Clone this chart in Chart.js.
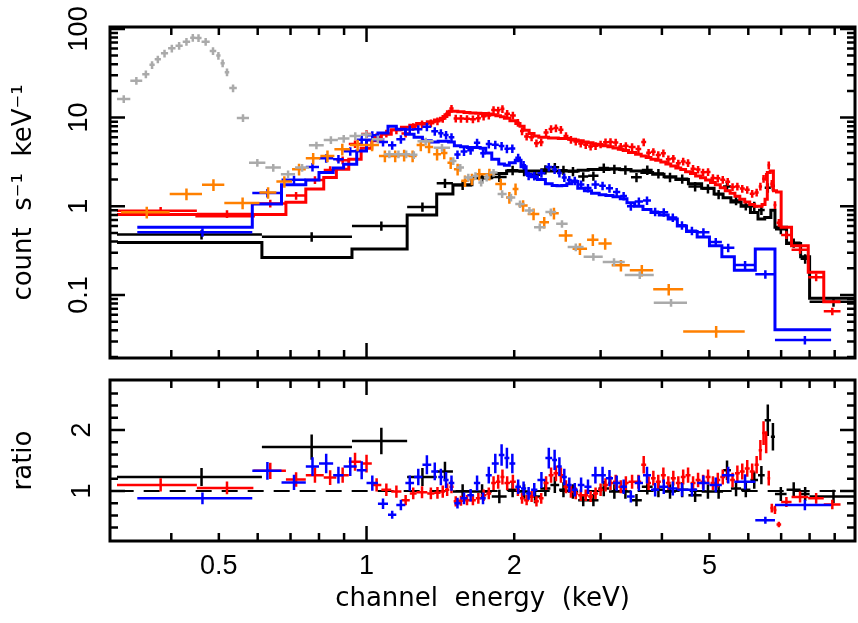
<!DOCTYPE html>
<html>
<head>
<meta charset="utf-8">
<script src="https://cdn.jsdelivr.net/npm/chart.js@4.4.1/dist/chart.umd.min.js"></script>
<style>
  html, body { margin: 0; padding: 0; background: #fff; }
  #wrap { position: relative; width: 858px; height: 623px; }
  canvas { position: absolute; left: 0; }
  #spec { top: 0; }
  #ratio { top: 370px; }
</style>
</head>
<body>
<div id="wrap">
  <canvas id="spec" width="858" height="370"></canvas>
  <canvas id="ratio" width="858" height="253"></canvas>
</div>
<script>
// axes (energy in keV)
const xMin = 0.311, xMax = 9.9;
const specMin = 0.0195, specMax = 105;
const ratioMin = 0.18, ratioMax = 2.82;
const xTickLabels = [0.5, 1, 2, 5];
const xMajorTicks = [1];
const xMinorTicks = [0.4, 0.5, 0.6, 0.7, 0.8, 0.9, 2, 3, 4, 5, 6, 7, 8, 9];
const specTickLabels = [0.1, 1, 10, 100];
const specMajorTicks = [0.1, 1, 10, 100];
const specMinorTicks = [0.02, 0.03, 0.04, 0.05, 0.06, 0.07, 0.08, 0.09,
  0.2, 0.3, 0.4, 0.5, 0.6, 0.7, 0.8, 0.9, 2, 3, 4, 5, 6, 7, 8, 9,
  20, 30, 40, 50, 60, 70, 80, 90];
const ratioTickLabels = [1, 2];
const ratioMajorTicks = [1, 2];
const ratioMinorTicks = [0.4, 0.6, 0.8, 1.2, 1.4, 1.6, 1.8, 2.2, 2.4, 2.6];

// black: bin edges, folded model (count/s/keV), data/model ratio
const blackEdges = [0.31, 0.612, 0.934, 1.21, 1.39, 1.50, 1.64, 1.80, 1.93, 2.04,
  2.15, 2.26, 2.37, 2.47, 2.57, 2.70, 2.83, 2.97, 3.12, 3.28,
  3.46, 3.64, 3.83, 4.04, 4.27, 4.53, 4.82, 5.11, 5.33, 5.53,
  5.80, 6.06, 6.28, 6.48, 6.67, 6.80, 7.18, 7.67, 8.0, 9.9];
const blackModel = [0.39, 0.264, 0.33, 0.80, 1.38, 1.75, 2.1, 2.35, 2.5, 2.5,
  2.5, 2.5, 2.5, 2.5, 2.5, 2.55, 2.6, 2.6, 2.65, 2.6,
  2.5, 2.4, 2.3, 2.15, 2.0, 1.8, 1.6, 1.38, 1.25, 1.12,
  1.0, 0.85, 0.72, 0.75, 0.9, 0.58, 0.38, 0.27, 0.092];
const blackRatio = [1.23, 1.72, 1.82, 1.23, 1.32, 0.99, 0.99, 0.91, 1.02, 0.99,
  0.91, 1.04, 1.10, 1.02, 0.99, 0.85, 0.85, 1.04, 0.99, 0.99,
  0.85, 1.07, 1.02, 0.99, 1.02, 0.93, 0.99, 0.99, 1.34, 1.04,
  1.02, 1.18, 1.26, 2.16, 1.89, 0.95, 1.02, 0.95, 0.91];

// red
const redEdges = [0.31, 0.451, 0.588, 0.685, 0.752, 0.818, 0.868, 0.92, 0.975, 1.025,
  1.072, 1.123, 1.178, 1.225, 1.265, 1.33, 1.375, 1.415, 1.445, 1.475,
  1.505, 1.535, 1.58, 1.625, 1.67, 1.71, 1.755, 1.795, 1.835, 1.875,
  1.91, 1.96, 2.015, 2.055, 2.095, 2.145, 2.195, 2.245, 2.295, 2.35,
  2.405, 2.46, 2.52, 2.58, 2.64, 2.70, 2.765, 2.83, 2.895, 2.965,
  3.035, 3.105, 3.18, 3.26, 3.335, 3.42, 3.535, 3.63, 3.715, 3.80,
  3.885, 3.98, 4.075, 4.17, 4.27, 4.37, 4.47, 4.575, 4.685, 4.795,
  4.91, 5.025, 5.14, 5.26, 5.385, 5.51, 5.635, 5.765, 5.90, 6.04,
  6.18, 6.30, 6.40, 6.49, 6.56, 6.65, 6.75, 6.85, 7.0, 7.35,
  7.95, 8.55, 9.25];
const redModel = [0.81, 0.78, 0.81, 1.11, 1.57, 2.11, 2.62, 3.4, 4.5, 5.5,
  6.5, 7.3, 7.8, 8.2, 8.6, 9.0, 9.4, 9.8, 10.8, 11.8,
  11.8, 11.6, 11.4, 11.3, 11.2, 11.1, 11.0, 10.8, 10.5, 10.2,
  9.8, 9.2, 8.6, 8.0, 7.2, 6.6, 6.2, 6.0, 6.0, 5.9,
  5.9, 5.8, 5.8, 5.7, 5.6, 5.5, 5.3, 5.2, 5.0, 4.9,
  4.8, 4.7, 4.55, 4.4, 4.25, 4.05, 3.85, 3.7, 3.55, 3.4,
  3.3, 3.15, 3.0, 2.85, 2.7, 2.6, 2.45, 2.35, 2.2, 2.1,
  1.98, 1.85, 1.75, 1.62, 1.5, 1.4, 1.3, 1.2, 1.12, 1.05,
  1.0, 1.0, 1.05, 1.2, 2.4, 2.5, 1.5, 1.45, 0.58, 0.36,
  0.18, 0.084];
const redRatio = [1.10, 1.05, 1.33, 1.19, 1.26, 1.22, 1.26, 1.48, 1.45, 1.10,
  1.02, 0.99, 0.85, 0.96, 0.98, 0.96, 0.97, 0.99, 1.02, 1.07,
  0.83, 0.84, 0.85, 0.85, 0.88, 0.93, 0.96, 1.13, 1.15, 1.23,
  1.13, 1.15, 1.02, 0.88, 0.85, 0.91, 0.83, 0.88, 1.13, 1.26,
  1.29, 1.26, 1.07, 0.99, 0.96, 0.93, 0.93, 0.91, 0.96, 1.02,
  1.10, 1.13, 1.15, 1.07, 1.13, 1.15, 1.15, 1.43, 1.13, 1.21,
  1.15, 1.26, 1.13, 1.21, 1.13, 1.23, 1.26, 1.13, 1.18, 1.15,
  1.23, 1.13, 1.18, 1.23, 1.26, 1.18, 1.29, 1.32, 1.37, 1.32,
  1.43, 1.67, 1.95, 1.80, 1.21, 0.72, 0.69, 0.45, 0.82, 0.90,
  0.88, 0.78];

// blue
const blueEdges = [0.341, 0.585, 0.671, 0.752, 0.80, 0.855, 0.898, 0.955, 1.0, 1.055,
  1.106, 1.15, 1.20, 1.25, 1.30, 1.355, 1.40, 1.435, 1.47, 1.51,
  1.555, 1.605, 1.655, 1.705, 1.75, 1.80, 1.86, 1.91, 1.955, 2.01,
  2.065, 2.115, 2.165, 2.23, 2.315, 2.39, 2.445, 2.50, 2.56, 2.62,
  2.695, 2.78, 2.875, 2.98, 3.075, 3.18, 3.29, 3.395, 3.52, 3.66,
  3.80, 3.95, 4.12, 4.30, 4.49, 4.72, 5.0, 5.3, 5.62, 6.2,
  6.8, 8.85];
const blueModel = [0.58, 1.06, 1.75, 1.98, 2.4, 2.7, 2.98, 4.2, 5.6, 6.7,
  8.0, 7.4, 6.5, 6.0, 5.5, 5.3, 5.4, 5.4, 5.3, 4.8,
  4.7, 4.6, 4.6, 4.5, 4.0, 3.4, 3.0, 2.9, 3.1, 3.3,
  2.8, 2.3, 2.15, 2.0, 1.8, 1.72, 1.7, 1.72, 1.8, 1.9,
  1.6, 1.5, 1.4, 1.35, 1.32, 1.28, 1.22, 1.1, 1.0, 0.92,
  0.85, 0.8, 0.72, 0.6, 0.52, 0.45, 0.36, 0.27, 0.19, 0.33,
  0.0405];
const blueRatio = [0.88, 1.33, 1.14, 1.40, 1.45, 1.26, 1.40, 1.34, 1.13, 0.79,
  0.61, 0.77, 1.13, 1.23, 1.43, 1.32, 1.23, 1.18, 1.13, 0.80,
  0.88, 0.93, 1.13, 0.88, 1.26, 1.45, 1.59, 1.54, 1.45, 1.07,
  1.04, 0.96, 1.02, 1.18, 1.54, 1.51, 1.40, 1.23, 1.10, 1.02,
  1.10, 1.07, 1.26, 1.26, 1.21, 1.13, 1.07, 0.91, 1.13, 1.26,
  1.02, 1.07, 1.04, 1.02, 1.02, 1.13, 1.10, 1.26, 1.15, 0.52,
  0.77];

// orange and grey: count rate only
const orangeEdges = [0.316, 0.397, 0.462, 0.513, 0.605, 0.655, 0.705, 0.752, 0.805, 0.86,
  0.925, 0.993, 1.06, 1.12, 1.168, 1.218, 1.265, 1.315, 1.367, 1.418,
  1.462, 1.507, 1.56, 1.615, 1.665, 1.73, 1.83, 1.925, 1.985, 2.04,
  2.13, 2.25, 2.355, 2.465, 2.63, 2.815, 2.97, 3.16, 3.44, 3.84,
  4.42, 5.9];
const orangeRate = [0.857, 1.38, 1.75, 1.09, 1.43, 1.9, 2.62, 3.48, 3.7, 4.4,
  4.9, 4.9, 3.7, 3.7, 3.77, 3.7, 4.9, 4.66, 3.86, 4.0,
  3.1, 2.62, 1.94, 2.03, 2.3, 2.3, 1.78, 1.26, 1.57, 1.02,
  0.82, 0.66, 0.835, 0.47, 0.333, 0.42, 0.38, 0.216, 0.19, 0.116,
  0.0388];
const grayEdges = [0.31, 0.33, 0.349, 0.361, 0.370, 0.381, 0.394, 0.408, 0.422, 0.437,
  0.448, 0.461, 0.479, 0.494, 0.504, 0.514, 0.525, 0.544, 0.576, 0.622,
  0.669, 0.715, 0.763, 0.818, 0.874, 0.923, 0.974, 1.024, 1.085, 1.141,
  1.182, 1.227, 1.27, 1.37, 1.48, 1.525, 1.58, 1.645, 1.69, 1.735,
  1.78, 1.85, 1.93, 2.01, 2.10, 2.195, 2.315, 2.435, 2.57, 2.77,
  3.03, 3.36, 3.85, 4.5];
const grayRate = [16.2, 26, 30.9, 39.3, 45.4, 53, 60.3, 64.7, 71.8, 79.5,
  79, 71.8, 56.3, 50, 41, 32.5, 21.5, 9.9, 3.1, 2.73,
  2.3, 2.73, 4.87, 5.6, 5.8, 6.2, 6.45, 5.7, 3.86, 3.86,
  3.86, 3.8, 5.4, 4.58, 3.25, 2.73, 2.11, 2.2, 1.86, 2.11,
  2.4, 1.38, 1.26, 1.06, 0.895, 0.58, 0.86, 0.635, 0.347, 0.27,
  0.236, 0.168, 0.082];

// fractional 1-sigma errors per data group
const blackErr = 0.12, redErr = 0.1, blueErr = 0.11, orangeErr = 0.15, grayErr = 0.1;

function bins(edges, vals) {
  const out = [];
  for (let i = 0; i < vals.length && i + 1 < edges.length; i++) {
    out.push({lo: edges[i], hi: edges[i + 1], v: vals[i]});
  }
  return out;
}
function crosses(edges, vals, err) {
  return bins(edges, vals).map(b => ({
    x: (b.lo + b.hi) / 2, y: b.v, xMin: b.lo, xMax: b.hi,
    yMin: b.v * (1 - err), yMax: b.v * (1 + err)
  }));
}
function steps(edges, vals) {
  const b = bins(edges, vals);
  const pts = b.map(p => ({x: p.lo, y: p.v}));
  const last = b[b.length - 1];
  pts.push({x: last.hi, y: last.v});
  return pts;
}
const mul = (a, b) => a.map((v, i) => v * b[i]);

const tickFont = {family: 'Liberation Sans', size: 27};
const titleFont = {family: 'DejaVu Sans', size: 26};

// error bars drawn right after their own dataset, so layering follows dataset order
const errorBars = {
  id: 'errorBars',
  afterDatasetDraw(chart, args) {
    const ds = chart.data.datasets[args.index];
    if (!ds.crosses) return;
    const {ctx, chartArea: a, scales: {x, y}} = chart;
    ctx.save();
    ctx.beginPath();
    ctx.rect(a.left, a.top, a.right - a.left, a.bottom - a.top);
    ctx.clip();
    ctx.strokeStyle = ds.borderColor;
    ctx.lineWidth = 2.5;
    ctx.beginPath();
    ds.data.forEach(p => {
      const px = x.getPixelForValue(p.x), py = y.getPixelForValue(p.y);
      ctx.moveTo(x.getPixelForValue(p.xMin), py);
      ctx.lineTo(x.getPixelForValue(p.xMax), py);
      ctx.moveTo(px, y.getPixelForValue(p.yMin));
      ctx.lineTo(px, y.getPixelForValue(p.yMax));
    });
    ctx.stroke();
    ctx.restore();
  }
};

// box with inward ticks on all four sides
const frameTicks = {
  id: 'frameTicks',
  afterDraw(chart, args, opts) {
    const {ctx, chartArea: a, scales: {x, y}} = chart;
    ctx.save();
    ctx.strokeStyle = '#000';
    ctx.lineWidth = 2.5;
    ctx.beginPath();
    const xt = (vals, len) => vals.forEach(v => {
      const p = x.getPixelForValue(v);
      if (p <= a.left || p >= a.right) return;
      ctx.moveTo(p, a.bottom); ctx.lineTo(p, a.bottom - len);
      ctx.moveTo(p, a.top); ctx.lineTo(p, a.top + len);
    });
    const yt = (vals, len) => vals.forEach(v => {
      const p = y.getPixelForValue(v);
      if (p <= a.top || p >= a.bottom) return;
      ctx.moveTo(a.left, p); ctx.lineTo(a.left + len, p);
      ctx.moveTo(a.right, p); ctx.lineTo(a.right - len, p);
    });
    xt(opts.xMajor, 15); xt(opts.xMinor, 8);
    yt(opts.yMajor, 15); yt(opts.yMinor, 8);
    ctx.stroke();
    ctx.lineWidth = 3;
    ctx.strokeRect(a.left, a.top, a.right - a.left, a.bottom - a.top);
    ctx.restore();
  }
};

function crossSet(data, color, order) {
  return {data: data, crosses: true, borderColor: color, backgroundColor: color,
    pointRadius: 0, showLine: false, order: order};
}
function stepSet(data, color, order) {
  return {data: data, borderColor: color, borderWidth: 3, pointRadius: 0,
    showLine: true, stepped: true, fill: false, order: order};
}
function noPad(s) {
  s.paddingTop = 0; s.paddingBottom = 0; s.paddingLeft = 0; s.paddingRight = 0;
}
function xAxis(show) {
  return {
    type: 'logarithmic', min: xMin, max: xMax, display: show,
    grid: {display: false, drawTicks: false}, border: {display: false},
    afterBuildTicks: s => { s.ticks = xTickLabels.map(v => ({value: v})); },
    afterFit: s => { s.height = show ? 82 : 0; noPad(s); },
    ticks: {autoSkip: false, minRotation: 0, maxRotation: 0, padding: 9,
      color: '#000', font: tickFont, callback: v => String(v)},
    title: {display: true, text: 'channel  energy  (keV)', color: '#000',
      font: titleFont, padding: {top: 0, bottom: 8}}
  };
}
function yAxis(type, min, max, labels, title, pad) {
  return {
    type: type, min: min, max: max,
    grid: {display: false, drawTicks: false}, border: {display: false},
    afterBuildTicks: s => { s.ticks = labels.map(v => ({value: v})); },
    afterFit: s => { s.width = 110; noPad(s); },
    ticks: {autoSkip: false, minRotation: 90, maxRotation: 90, crossAlign: 'center',
      padding: pad, color: '#000', font: tickFont, callback: v => String(v)},
    title: {display: true, text: title, color: '#000', font: titleFont,
      padding: {top: 9, bottom: 0}}
  };
}

const blackData = mul(blackModel, blackRatio);
const redData = mul(redModel, redRatio);
const blueData = mul(blueModel, blueRatio);

new Chart(document.getElementById('spec'), {
  type: 'scatter',
  data: {
    datasets: [
      crossSet(crosses(grayEdges, grayRate, grayErr), '#aaaaaa', 1),
      crossSet(crosses(orangeEdges, orangeRate, orangeErr), '#ff8000', 2),
      stepSet(steps(blueEdges, blueModel), '#0000ff', 3),
      crossSet(crosses(blueEdges, blueData, blueErr), '#0000ff', 3),
      stepSet(steps(redEdges, redModel), '#ff0000', 4),
      crossSet(crosses(redEdges, redData, redErr), '#ff0000', 4),
      stepSet(steps(blackEdges, blackModel), '#000000', 5),
      crossSet(crosses(blackEdges, blackData, blackErr), '#000000', 5)
    ]
  },
  options: {
    responsive: false, animation: false, events: [],
    layout: {padding: {left: 0, right: 3, top: 27, bottom: 12}},
    plugins: {
      legend: {display: false}, tooltip: {enabled: false},
      frameTicks: {xMajor: xMajorTicks, xMinor: xMinorTicks, yMajor: specMajorTicks, yMinor: specMinorTicks}
    },
    scales: {
      x: xAxis(false),
      y: yAxis('logarithmic', specMin, specMax, specTickLabels, 'count  s\u207B\u00B9  keV\u207B\u00B9', 8)
    }
  },
  plugins: [errorBars, frameTicks]
});

new Chart(document.getElementById('ratio'), {
  type: 'scatter',
  data: {
    datasets: [
      crossSet(crosses(blueEdges, blueRatio, blueErr), '#0000ff', 3),
      crossSet(crosses(redEdges, redRatio, redErr), '#ff0000', 4),
      crossSet(crosses(blackEdges, blackRatio, blackErr), '#000000', 5),
      {data: [{x: xMin, y: 1}, {x: xMax, y: 1}], borderColor: '#000', borderWidth: 2,
        borderDash: [16, 10], pointRadius: 0, showLine: true, order: 10}
    ]
  },
  options: {
    responsive: false, animation: false, events: [],
    layout: {padding: {left: 0, right: 3, top: 10, bottom: 0}},
    plugins: {
      legend: {display: false}, tooltip: {enabled: false},
      frameTicks: {xMajor: xMajorTicks, xMinor: xMinorTicks, yMajor: ratioMajorTicks, yMinor: ratioMinorTicks}
    },
    scales: {
      x: xAxis(true),
      y: yAxis('linear', ratioMin, ratioMax, ratioTickLabels, 'ratio', 20)
    }
  },
  plugins: [errorBars, frameTicks]
});
</script>
</body>
</html>
